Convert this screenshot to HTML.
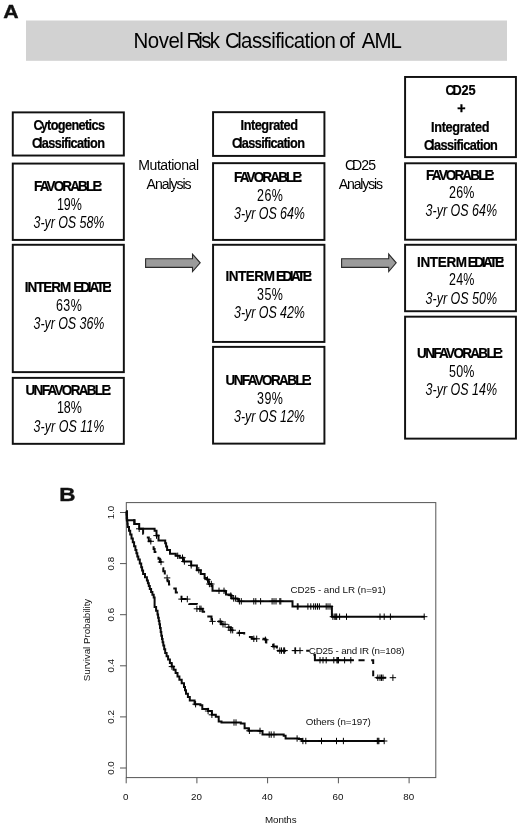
<!DOCTYPE html>
<html lang="en"><head><meta charset="utf-8"><title>Novel Risk Classification of AML</title>
<style>html,body{margin:0;padding:0;background:#fff}svg{display:block;filter:blur(0.3px)}text{font-family:"Liberation Sans",Arial,sans-serif}</style>
</head><body>
<svg width="520" height="825" viewBox="0 0 520 825">
<rect width="520" height="825" fill="#fff"/>
<text x="3.3" y="18.0" font-size="17.6" font-weight="bold" fill="#111" stroke="#111" stroke-width="0.35" textLength="15.4" lengthAdjust="spacingAndGlyphs">A</text>
<text x="59.3" y="500.7" font-size="17.6" font-weight="bold" fill="#111" stroke="#111" stroke-width="0.35" textLength="16.2" lengthAdjust="spacingAndGlyphs">B</text>
<rect x="26" y="20.5" width="481" height="40.3" fill="#d2d2d2"/>
<rect x="12.78" y="112.38" width="111.05" height="43.15" fill="#fff" stroke="#111" stroke-width="1.95"/>
<rect x="12.78" y="163.57" width="111.05" height="76.35" fill="#fff" stroke="#111" stroke-width="1.95"/>
<rect x="12.78" y="244.78" width="111.05" height="127.35" fill="#fff" stroke="#111" stroke-width="1.95"/>
<rect x="12.78" y="377.88" width="111.05" height="65.95" fill="#fff" stroke="#111" stroke-width="1.95"/>
<rect x="213.07" y="112.17" width="111.35" height="43.75" fill="#fff" stroke="#111" stroke-width="1.95"/>
<rect x="213.07" y="163.17" width="111.35" height="76.75" fill="#fff" stroke="#111" stroke-width="1.95"/>
<rect x="213.07" y="244.78" width="111.35" height="97.15" fill="#fff" stroke="#111" stroke-width="1.95"/>
<rect x="213.07" y="346.88" width="111.35" height="96.75" fill="#fff" stroke="#111" stroke-width="1.95"/>
<rect x="405.08" y="76.97" width="110.85" height="80.15" fill="#fff" stroke="#111" stroke-width="1.95"/>
<rect x="405.08" y="163.28" width="110.85" height="76.45" fill="#fff" stroke="#111" stroke-width="1.95"/>
<rect x="405.08" y="244.78" width="110.85" height="66.45" fill="#fff" stroke="#111" stroke-width="1.95"/>
<rect x="405.08" y="316.68" width="110.85" height="121.95" fill="#fff" stroke="#111" stroke-width="1.95"/>
<text transform="translate(0 48.20) scale(0.93 1)" font-size="22" font-weight="normal" font-style="normal" fill="#000" xml:space="preserve"><tspan x="143.66" textLength="54.03" lengthAdjust="spacing">Novel</tspan><tspan x="196.18" textLength="40.38" lengthAdjust="spacing"> R<tspan dx="-1.6">isk</tspan></tspan><tspan x="236.45" textLength="124.68" lengthAdjust="spacing"> C<tspan dx="-2.2">lassification</tspan></tspan><tspan x="360.22" textLength="21.56" lengthAdjust="spacing"> of</tspan><tspan x="385.16" textLength="47.04" lengthAdjust="spacing"> AML</tspan></text>
<text transform="translate(0 130.30) scale(0.85 1)" font-size="15" font-weight="bold" font-style="normal" fill="#000" stroke="#000" stroke-width="0.25" xml:space="preserve"><tspan x="39.44" textLength="84.09" lengthAdjust="spacing">C<tspan dx="-1.7">ytogenetics</tspan></tspan></text>
<text transform="translate(0 148.45) scale(0.85 1)" font-size="15" font-weight="bold" font-style="normal" fill="#000" stroke="#000" stroke-width="0.25" xml:space="preserve"><tspan x="37.71" textLength="85.76" lengthAdjust="spacing">C<tspan dx="-2.0">lassification</tspan></tspan></text>
<text transform="translate(0 190.95) scale(0.9 1)" font-size="15" font-weight="bold" font-style="normal" fill="#000" stroke="#000" stroke-width="0.2" xml:space="preserve"><tspan x="37.83" textLength="76.28" lengthAdjust="spacing">FAVORABLE<tspan dx="-1.5">:</tspan></tspan></text>
<text transform="translate(0 209.75) scale(0.79 1)" font-size="15.8" font-weight="normal" font-style="normal" fill="#000" xml:space="preserve"><tspan x="72.22" textLength="31.27" lengthAdjust="spacing">19%</tspan></text>
<text transform="translate(0 227.95) scale(0.79 1)" font-size="15.8" font-weight="normal" font-style="italic" fill="#000" xml:space="preserve"><tspan x="42.44" textLength="89.75" lengthAdjust="spacing">3-yr OS 58%</tspan></text>
<text transform="translate(0 292.45) scale(0.9 1)" font-size="15" font-weight="bold" font-style="normal" fill="#000" stroke="#000" stroke-width="0.2" xml:space="preserve"><tspan x="27.44" textLength="51.78" lengthAdjust="spacing">INTERM</tspan><tspan x="81.44" textLength="43.42" lengthAdjust="spacing">EDIATE<tspan dx="-1.5">:</tspan></tspan></text>
<text transform="translate(0 310.95) scale(0.79 1)" font-size="15.8" font-weight="normal" font-style="normal" fill="#000" xml:space="preserve"><tspan x="71.01" textLength="32.47" lengthAdjust="spacing">63%</tspan></text>
<text transform="translate(0 329.25) scale(0.79 1)" font-size="15.8" font-weight="normal" font-style="italic" fill="#000" xml:space="preserve"><tspan x="42.44" textLength="89.75" lengthAdjust="spacing">3-yr OS 36%</tspan></text>
<text transform="translate(0 394.95) scale(0.9 1)" font-size="15" font-weight="bold" font-style="normal" fill="#000" stroke="#000" stroke-width="0.2" xml:space="preserve"><tspan x="28.36" textLength="95.92" lengthAdjust="spacing">UNFAVORABLE<tspan dx="-1.5">:</tspan></tspan></text>
<text transform="translate(0 412.95) scale(0.79 1)" font-size="15.8" font-weight="normal" font-style="normal" fill="#000" xml:space="preserve"><tspan x="72.22" textLength="31.27" lengthAdjust="spacing">18%</tspan></text>
<text transform="translate(0 432.05) scale(0.79 1)" font-size="15.8" font-weight="normal" font-style="italic" fill="#000" xml:space="preserve"><tspan x="42.44" textLength="89.75" lengthAdjust="spacing">3-yr OS 11%</tspan></text>
<text transform="translate(0 129.75) scale(0.85 1)" font-size="15" font-weight="bold" font-style="normal" fill="#000" stroke="#000" stroke-width="0.25" xml:space="preserve"><tspan x="283.03" textLength="67.50" lengthAdjust="spacing">Integrated</tspan></text>
<text transform="translate(0 148.45) scale(0.85 1)" font-size="15" font-weight="bold" font-style="normal" fill="#000" stroke="#000" stroke-width="0.25" xml:space="preserve"><tspan x="273.00" textLength="85.76" lengthAdjust="spacing">C<tspan dx="-2.0">lassification</tspan></tspan></text>
<text transform="translate(0 182.25) scale(0.9 1)" font-size="15" font-weight="bold" font-style="normal" fill="#000" stroke="#000" stroke-width="0.2" xml:space="preserve"><tspan x="260.11" textLength="76.22" lengthAdjust="spacing">FAVORABLE<tspan dx="-1.5">:</tspan></tspan></text>
<text transform="translate(0 201.05) scale(0.79 1)" font-size="15.8" font-weight="normal" font-style="normal" fill="#000" xml:space="preserve"><tspan x="325.44" textLength="32.72" lengthAdjust="spacing">26%</tspan></text>
<text transform="translate(0 219.45) scale(0.79 1)" font-size="15.8" font-weight="normal" font-style="italic" fill="#000" xml:space="preserve"><tspan x="296.27" textLength="89.75" lengthAdjust="spacing">3-yr OS 64%</tspan></text>
<text transform="translate(0 280.95) scale(0.9 1)" font-size="15" font-weight="bold" font-style="normal" fill="#000" stroke="#000" stroke-width="0.2" xml:space="preserve"><tspan x="250.50" textLength="54.94" lengthAdjust="spacing">INTERM</tspan><tspan x="306.56" textLength="40.67" lengthAdjust="spacing">EDIATE<tspan dx="-1.5">:</tspan></tspan></text>
<text transform="translate(0 299.85) scale(0.79 1)" font-size="15.8" font-weight="normal" font-style="normal" fill="#000" xml:space="preserve"><tspan x="325.44" textLength="32.72" lengthAdjust="spacing">35%</tspan></text>
<text transform="translate(0 318.35) scale(0.79 1)" font-size="15.8" font-weight="normal" font-style="italic" fill="#000" xml:space="preserve"><tspan x="296.27" textLength="89.75" lengthAdjust="spacing">3-yr OS 42%</tspan></text>
<text transform="translate(0 385.35) scale(0.9 1)" font-size="15" font-weight="bold" font-style="normal" fill="#000" stroke="#000" stroke-width="0.2" xml:space="preserve"><tspan x="250.64" textLength="96.44" lengthAdjust="spacing">UNFAVORABLE<tspan dx="-1.5">:</tspan></tspan></text>
<text transform="translate(0 404.45) scale(0.79 1)" font-size="15.8" font-weight="normal" font-style="normal" fill="#000" xml:space="preserve"><tspan x="325.44" textLength="32.72" lengthAdjust="spacing">39%</tspan></text>
<text transform="translate(0 422.35) scale(0.79 1)" font-size="15.8" font-weight="normal" font-style="italic" fill="#000" xml:space="preserve"><tspan x="296.27" textLength="89.75" lengthAdjust="spacing">3-yr OS 12%</tspan></text>
<text transform="translate(0 95.05) scale(0.85 1)" font-size="15" font-weight="bold" font-style="normal" fill="#000" stroke="#000" stroke-width="0.25" xml:space="preserve"><tspan x="524.21" textLength="35.24" lengthAdjust="spacing">C<tspan dx="-2.6">D25</tspan></tspan></text>
<text transform="translate(0 113.35) scale(0.92 1)" font-size="15.5" font-weight="bold" font-style="normal" fill="#000" stroke="#000" stroke-width="0.4" xml:space="preserve"><tspan x="496.96" textLength="4.29" lengthAdjust="spacing">+</tspan></text>
<text transform="translate(0 131.65) scale(0.85 1)" font-size="15" font-weight="bold" font-style="normal" fill="#000" stroke="#000" stroke-width="0.25" xml:space="preserve"><tspan x="507.18" textLength="68.62" lengthAdjust="spacing">Integrated</tspan></text>
<text transform="translate(0 149.55) scale(0.85 1)" font-size="15" font-weight="bold" font-style="normal" fill="#000" stroke="#000" stroke-width="0.25" xml:space="preserve"><tspan x="498.88" textLength="86.88" lengthAdjust="spacing">C<tspan dx="-2.0">lassification</tspan></tspan></text>
<text transform="translate(0 179.95) scale(0.9 1)" font-size="15" font-weight="bold" font-style="normal" fill="#000" stroke="#000" stroke-width="0.2" xml:space="preserve"><tspan x="473.44" textLength="76.44" lengthAdjust="spacing">FAVORABLE<tspan dx="-1.5">:</tspan></tspan></text>
<text transform="translate(0 198.35) scale(0.79 1)" font-size="15.8" font-weight="normal" font-style="normal" fill="#000" xml:space="preserve"><tspan x="568.42" textLength="32.12" lengthAdjust="spacing">26%</tspan></text>
<text transform="translate(0 216.35) scale(0.79 1)" font-size="15.8" font-weight="normal" font-style="italic" fill="#000" xml:space="preserve"><tspan x="538.70" textLength="90.41" lengthAdjust="spacing">3-yr OS 64%</tspan></text>
<text transform="translate(0 267.25) scale(0.9 1)" font-size="15" font-weight="bold" font-style="normal" fill="#000" stroke="#000" stroke-width="0.2" xml:space="preserve"><tspan x="463.39" textLength="55.61" lengthAdjust="spacing">INTERM</tspan><tspan x="519.83" textLength="40.89" lengthAdjust="spacing">EDIATE<tspan dx="-1.5">:</tspan></tspan></text>
<text transform="translate(0 285.15) scale(0.79 1)" font-size="15.8" font-weight="normal" font-style="normal" fill="#000" xml:space="preserve"><tspan x="568.42" textLength="32.12" lengthAdjust="spacing">24%</tspan></text>
<text transform="translate(0 304.15) scale(0.79 1)" font-size="15.8" font-weight="normal" font-style="italic" fill="#000" xml:space="preserve"><tspan x="538.70" textLength="90.41" lengthAdjust="spacing">3-yr OS 50%</tspan></text>
<text transform="translate(0 358.45) scale(0.9 1)" font-size="15" font-weight="bold" font-style="normal" fill="#000" stroke="#000" stroke-width="0.2" xml:space="preserve"><tspan x="463.44" textLength="95.92" lengthAdjust="spacing">UNFAVORABLE<tspan dx="-1.5">:</tspan></tspan></text>
<text transform="translate(0 376.85) scale(0.79 1)" font-size="15.8" font-weight="normal" font-style="normal" fill="#000" xml:space="preserve"><tspan x="568.42" textLength="32.12" lengthAdjust="spacing">50%</tspan></text>
<text transform="translate(0 395.25) scale(0.79 1)" font-size="15.8" font-weight="normal" font-style="italic" fill="#000" xml:space="preserve"><tspan x="538.70" textLength="90.41" lengthAdjust="spacing">3-yr OS 14%</tspan></text>
<text transform="translate(0 170.35) scale(0.92 1)" font-size="15.3" font-weight="normal" font-style="normal" fill="#000" xml:space="preserve"><tspan x="150.33" textLength="66.03" lengthAdjust="spacing">Mutational</tspan></text>
<text transform="translate(0 188.85) scale(0.92 1)" font-size="15.3" font-weight="normal" font-style="normal" fill="#000" xml:space="preserve"><tspan x="159.35" textLength="48.91" lengthAdjust="spacing">Analysis</tspan></text>
<text transform="translate(0 170.35) scale(0.92 1)" font-size="15.3" font-weight="normal" font-style="normal" fill="#000" xml:space="preserve"><tspan x="374.89" textLength="33.91" lengthAdjust="spacing">C<tspan dx="-2.4">D25</tspan></tspan></text>
<text transform="translate(0 188.85) scale(0.92 1)" font-size="15.3" font-weight="normal" font-style="normal" fill="#000" xml:space="preserve"><tspan x="368.26" textLength="48.04" lengthAdjust="spacing">Analysis</tspan></text>
<path d="M145.6 258.7H192.5V254.1L200.2 262.8L192.5 271.5V267.4H145.6Z" fill="#9b9b9b" stroke="#2a2a2a" stroke-width="1.1" stroke-linejoin="miter"/>
<path d="M341.6 258.7H388.7V254.1L396.2 262.8L388.7 271.5V267.4H341.6Z" fill="#9b9b9b" stroke="#2a2a2a" stroke-width="1.1" stroke-linejoin="miter"/>
<g fill="none" stroke="#555" stroke-width="1">
<rect x="126.3" y="502.6" width="309.5" height="275"/>
<path d="M120 768.0H126.3"/>
<path d="M120 716.9H126.3"/>
<path d="M120 665.8H126.3"/>
<path d="M120 614.7H126.3"/>
<path d="M120 563.6H126.3"/>
<path d="M120 512.5H126.3"/>
<path d="M126.2 777.6V783.3"/>
<path d="M196.9 777.6V783.3"/>
<path d="M267.6 777.6V783.3"/>
<path d="M338.4 777.6V783.3"/>
<path d="M409.1 777.6V783.3"/>
</g>
<g font-size="9.8" fill="#111" text-anchor="middle">
<text transform="translate(114.1 768.0) rotate(-90)">0.0</text>
<text transform="translate(114.1 716.9) rotate(-90)">0.2</text>
<text transform="translate(114.1 665.8) rotate(-90)">0.4</text>
<text transform="translate(114.1 614.7) rotate(-90)">0.6</text>
<text transform="translate(114.1 563.6) rotate(-90)">0.8</text>
<text transform="translate(114.1 512.5) rotate(-90)">1.0</text>
<text x="125.8" y="800.3">0</text>
<text x="196.5" y="800.3">20</text>
<text x="267.2" y="800.3">40</text>
<text x="338.0" y="800.3">60</text>
<text x="408.7" y="800.3">80</text>
<text transform="translate(90.4 640) rotate(-90)" textLength="82.5" lengthAdjust="spacing">Survival Probability</text>
<text x="280.8" y="822.7" textLength="31.5" lengthAdjust="spacing">Months</text>
</g>
<g font-size="9.8" fill="#111">
<text x="290.6" y="592.7" textLength="95.2" lengthAdjust="spacing">CD25 - and LR (n=91)</text>
<text x="308.8" y="653.7" textLength="95.6" lengthAdjust="spacing">CD25 - and IR (n=108)</text>
<text x="305.8" y="725" textLength="65.0" lengthAdjust="spacing">Others (n=197)</text>
</g>
<g fill="none" stroke="#0a0a0a" stroke-width="2" stroke-linejoin="miter">
<path d="M126.3 511.5H126.8V520.2H133.5H133.5H134.4V524.0H139.2V525.0H139.2V528.8H154.6V530.8H156.5V535.6H158.5V540.4H165.2V543.3H166.1V546.6H167.1V550.0H170.0V553.8H175.8V555.8H179.6V557.7H183.5V561.5H191.2V565.4H196.9V570.2H200.8V574.0H204.6V577.9H207.0V579.6H208.7V584.0H211.5V586.0H212.5V590.8H225.0V591.2H226.0V594.6H230.8V595.6H231.7V598.5H237.5V599.4H238.5V601.3H292.5H292.5H292.5V606.5H331.9H331.9H331.9V616.7H424.6H424.6"/>
<path d="M126.3 511.5H126.8V520.2H133.5H133.5H134.4V524.0H139.2V525.0H139.2V528.8H143.1V533.7H145.9V537.5H148.8V541.3H152.7V546.2H153.6V549.0H154.6V551.9H156.6V555.3H158.5V558.7H159.9V562.0H161.3V565.4H162.3V568.3H163.3V571.2H164.8V574.5H166.2V577.9H167.6V581.2H169.0V584.6H172.4V588.5H175.8V592.4H178.7V595.8H181.5V599.1H189.2V604.0H196.9V608.8H202.7V611.7H205.6V616.5H211.5V621.4H221.2V624.3H226.9V627.3H230.8V630.2H238.5V633.1H244.2V636.9H251.9V638.8H265.4V639.8H266.3V643.7H273.1V646.5H276.9V650.6" stroke-dasharray="8.5 7"/>
<path d="M277 650.7H286M306.2 650.7H309.4M313.4 654.8H314.9V660.2H353.8M358.5 660.2H364.6M371.2 660.2H373.2V664M373.2 670.6V676.2M376 677.7H386.2"/>
<path d="M126.3 511.5H126.6V514.6H126.9V517.7H127.1V520.7H127.4V523.8H127.7V526.9H129.0V530.8H130.2V534.6H131.5V538.5H132.8V542.3H134.1V546.2H135.4V550.0H136.4V553.2H137.3V556.4H138.3V559.6H139.8V563.5H141.2V567.3H142.1V570.6H143.1V574.0H145.0V577.2H146.9V580.4H147.9V583.3H148.8V586.1H149.8V589.0H151.1V591.9H152.4V594.7H153.7V597.6H154.6V606.9H156.1V610.8H157.5V614.6H158.1V617.8H158.8V621.0H159.4V624.2H160.0V628.1H160.7V631.9H161.3V635.8H162.0V639.0H162.6V642.2H163.3V645.4H164.2V649.2H165.2V653.1H166.6V656.2H168.1V659.4H169.9V663.0H171.7V666.6H173.6V669.8H175.6V673.0H177.5V676.4H179.4V679.8H181.7V683.3H184.0V686.9H185.0V690.3H186.0V693.7H187.9V697.0H189.8V700.4H194.6V704.2H200.4V705.2H202.3V709.0H208.1V711.0H211.9V714.8H215.8V716.7H218.7V721.5H221.5V722.5H240.8V723.5H244.6V728.3H248.5V730.8H259.6V730.9H262.5V734.6H283.7V735.8H285.6V738.5H299.0V739.0H301.9V741.0H384.2H384.2"/>
</g>
<path d="M136.0 528.8h6.4M139.2 525.6v6.4M153.3 535.6h6.4M156.5 532.4v6.4M174.5 555.8h6.4M177.7 552.6v6.4M179.3 557.7h6.4M182.5 554.5v6.4M181.2 561.5h6.4M184.4 558.3v6.4M188.0 565.4h6.4M191.2 562.2v6.4M195.6 570.2h6.4M198.8 567.0v6.4M204.3 579.6h6.4M207.5 576.4v6.4M206.2 584.0h6.4M209.4 580.8v6.4M208.1 584.0h6.4M211.3 580.8v6.4M215.8 590.8h6.4M219.0 587.6v6.4M220.8 590.8h6.4M224.0 587.6v6.4M227.6 595.6h6.4M230.8 592.4v6.4M230.5 598.5h6.4M233.7 595.3v6.4M232.4 598.5h6.4M235.6 595.3v6.4M236.2 601.3h6.4M239.4 598.1v6.4M238.1 601.3h6.4M241.3 598.1v6.4M250.6 601.3h6.4M253.8 598.1v6.4M252.6 601.3h6.4M255.8 598.1v6.4M257.4 601.3h6.4M260.6 598.1v6.4M268.9 601.3h6.4M272.1 598.1v6.4M270.8 601.3h6.4M274.0 598.1v6.4M272.8 601.3h6.4M276.0 598.1v6.4M276.6 601.3h6.4M279.8 598.1v6.4M277.6 601.3h6.4M280.8 598.1v6.4M294.9 606.5h6.4M298.1 603.3v6.4M294.1 606.5h6.4M297.3 603.3v6.4M304.7 606.5h6.4M307.9 603.3v6.4M307.6 606.5h6.4M310.8 603.3v6.4M310.5 606.5h6.4M313.7 603.3v6.4M312.4 606.5h6.4M315.6 603.3v6.4M314.3 606.5h6.4M317.5 603.3v6.4M316.2 606.5h6.4M319.4 603.3v6.4M323.0 606.5h6.4M326.2 603.3v6.4M324.8 606.5h6.4M328.0 603.3v6.4M326.8 606.5h6.4M330.0 603.3v6.4M329.7 616.7h6.4M332.9 613.5v6.4M331.6 616.7h6.4M334.8 613.5v6.4M332.6 616.7h6.4M335.8 613.5v6.4M333.5 616.7h6.4M336.7 613.5v6.4M336.4 616.7h6.4M339.6 613.5v6.4M343.3 616.7h6.4M346.5 613.5v6.4M376.8 616.7h6.4M380.0 613.5v6.4M381.0 616.7h6.4M384.2 613.5v6.4M387.2 616.7h6.4M390.4 613.5v6.4M421.0 616.7h6.4M424.2 613.5v6.4M147.6 541.3h6.4M150.8 538.1v6.4M157.8 562.0h6.4M161.0 558.8v6.4M163.9 577.9h6.4M167.1 574.7v6.4M178.3 599.1h6.4M181.5 595.9v6.4M184.1 599.1h6.4M187.3 595.9v6.4M193.7 608.8h6.4M196.9 605.6v6.4M196.6 608.8h6.4M199.8 605.6v6.4M197.8 608.8h6.4M201.0 605.6v6.4M209.3 621.4h6.4M212.5 618.2v6.4M217.0 621.4h6.4M220.2 618.2v6.4M219.8 624.3h6.4M223.0 621.1v6.4M221.8 624.3h6.4M225.0 621.1v6.4M225.6 627.3h6.4M228.8 624.1v6.4M227.6 630.2h6.4M230.8 627.0v6.4M229.5 630.2h6.4M232.7 627.0v6.4M236.2 633.1h6.4M239.4 629.9v6.4M250.6 638.8h6.4M253.8 635.6v6.4M253.5 638.8h6.4M256.7 635.6v6.4M262.2 639.8h6.4M265.4 636.6v6.4M270.8 646.5h6.4M274.0 643.3v6.4M276.6 650.6h6.4M279.8 647.4v6.4M278.3 650.6h6.4M281.5 647.4v6.4M280.5 650.6h6.4M283.7 647.4v6.4M281.4 650.6h6.4M284.6 647.4v6.4M291.7 650.6h6.4M294.9 647.4v6.4M292.4 650.6h6.4M295.6 647.4v6.4M296.8 650.6h6.4M300.0 647.4v6.4M316.8 660.2h6.4M320.0 657.0v6.4M319.8 660.2h6.4M323.0 657.0v6.4M323.0 660.2h6.4M326.2 657.0v6.4M330.6 660.2h6.4M333.8 657.0v6.4M333.7 660.2h6.4M336.9 657.0v6.4M334.5 660.2h6.4M337.7 657.0v6.4M335.3 660.2h6.4M338.5 657.0v6.4M341.4 660.2h6.4M344.6 657.0v6.4M347.6 660.2h6.4M350.8 657.0v6.4M374.6 677.7h6.4M377.8 674.5v6.4M376.8 677.7h6.4M380.0 674.5v6.4M378.3 677.7h6.4M381.5 674.5v6.4M379.8 677.7h6.4M383.0 674.5v6.4M389.7 677.7h6.4M392.9 674.5v6.4M168.7 666.6h6.4M171.9 663.4v6.4M192.4 704.2h6.4M195.6 701.0v6.4M204.9 711.0h6.4M208.1 707.8v6.4M208.7 714.8h6.4M211.9 711.6v6.4M230.8 722.5h6.4M234.0 719.3v6.4M232.8 722.5h6.4M236.0 719.3v6.4M246.2 730.8h6.4M249.4 727.6v6.4M256.8 730.9h6.4M260.0 727.7v6.4M266.0 734.6h6.4M269.2 731.4v6.4M268.0 734.6h6.4M271.2 731.4v6.4M270.8 734.6h6.4M274.0 731.4v6.4M293.9 738.5h6.4M297.1 735.3v6.4M299.7 741.0h6.4M302.9 737.8v6.4M302.6 741.0h6.4M305.8 737.8v6.4M318.3 741.0h6.4M321.5 737.8v6.4M333.3 741.0h6.4M336.5 737.8v6.4M340.2 741.0h6.4M343.4 737.8v6.4M374.1 741.0h6.4M377.3 737.8v6.4M374.9 741.0h6.4M378.1 737.8v6.4M375.7 741.0h6.4M378.9 737.8v6.4M381.0 741.0h6.4M384.2 737.8v6.4" fill="none" stroke="#000" stroke-width="1"/>
</svg></body></html>
